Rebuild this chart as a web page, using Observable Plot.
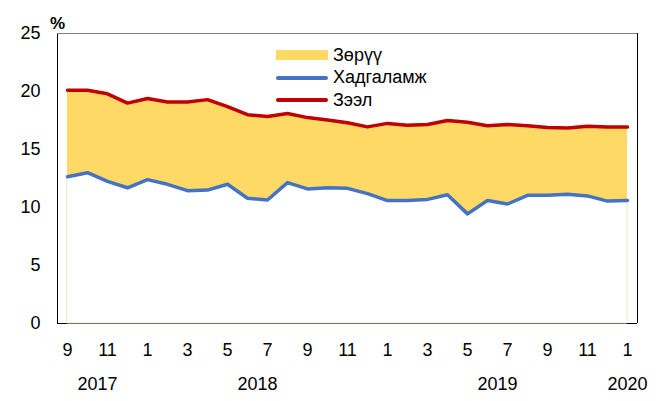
<!DOCTYPE html>
<html>
<head>
<meta charset="utf-8">
<script src="https://cdn.jsdelivr.net/npm/d3@7"></script>
<script src="https://cdn.jsdelivr.net/npm/@observablehq/plot@0.6"></script>
<style>
  html, body { margin: 0; padding: 0; background: #fff; }
  #wrap { position: relative; width: 662px; height: 401px; font-family: "Liberation Sans", Arial, sans-serif; }
  .leg { position: absolute; left: 276px; height: 22px; display: flex; align-items: center; font-size: 18px; color: #000; white-space: nowrap; }
  .sw { width: 52px; margin-right: 5px; }
</style>
</head>
<body>
<div id="wrap"></div>
<script>
// Month numbers, Sep 2017 .. Jan 2020
const monthNum = [9,10,11,12,1,2,3,4,5,6,7,8,9,10,11,12,1,2,3,4,5,6,7,8,9,10,11,12,1];
const startYear = 2017;
// Loan rate (Зээл), %
const loan = [20.1,20.1,19.8,19.0,19.4,19.1,19.1,19.3,18.7,18.0,17.85,18.1,17.75,17.55,17.3,16.95,17.25,17.1,17.15,17.5,17.35,17.05,17.15,17.05,16.9,16.85,17.0,16.95,16.95];
// Deposit rate (Хадгаламж), %
const deposit = [12.65,13.0,12.25,11.7,12.4,12.0,11.45,11.5,12.0,10.8,10.65,12.15,11.6,11.7,11.65,11.2,10.6,10.6,10.7,11.1,9.45,10.6,10.3,11.05,11.05,11.15,11.0,10.55,10.6];
const yTicks = [0,5,10,15,20,25];
const seriesNames = ["Зөрүү", "Хадгаламж", "Зээл"];
const colors = {gap: "#FFD966", deposit: "#4472C4", loan: "#C00000"};

const data = monthNum.map((m, i) => ({i, m, loan: loan[i], deposit: deposit[i]}));

// year of each month and year label centers
let yr = startYear;
const yearOf = monthNum.map((m, i) => { if (i > 0 && m < monthNum[i - 1]) yr++; return yr; });
const years = Array.from(new Set(yearOf));
const yearRows = years.map(y => {
  const idx = data.filter((d, i) => yearOf[i] === y).map(d => d.i);
  return {year: String(y), center: d3.mean(idx)};
});
const evenIdx = data.filter(d => d.i % 2 === 0).map(d => d.i);

const chart = Plot.plot({
  width: 662,
  height: 401,
  marginLeft: 57,
  marginRight: 25,
  marginTop: 33,
  marginBottom: 78,
  x: {domain: [-0.5, data.length - 0.5]},
  y: {domain: [0, 25]},
  style: {fontFamily: "'Liberation Sans', Arial, sans-serif", fontSize: "18px", color: "#000", background: "white", overflow: "visible"},
  marks: [
    Plot.ruleY([0], {stroke: "#000", strokeWidth: 1}),
    Plot.areaY(data, {x: "i", y1: "deposit", y2: "loan", fill: colors.gap, curve: "linear"}),
    Plot.areaY(data, {x: "i", y1: 0, y2: "deposit", fill: "white", stroke: "#efe6cc", strokeWidth: 1}),
    Plot.lineY(data, {x: "i", y: "deposit", stroke: colors.deposit, strokeWidth: 3.5}),
    Plot.lineY(data, {x: "i", y: "loan", stroke: colors.loan, strokeWidth: 3.5}),
    Plot.ruleX([-0.5], {stroke: "#000", strokeWidth: 1}),
    Plot.ruleX([data.length - 0.5], {stroke: "#000", strokeWidth: 1}),
    Plot.ruleY([25], {stroke: "#7f7f7f", strokeWidth: 1}),
    Plot.axisY({ticks: yTicks, tickSize: 0, tickPadding: 17, label: null, fontSize: 18}),
    Plot.axisX({ticks: evenIdx, tickFormat: i => String(monthNum[i]), tickSize: 0, tickPadding: 20, label: null, fontSize: 18}),
    Plot.text(yearRows, {x: "center", text: "year", frameAnchor: "bottom", dy: 66, fontSize: 18}),
    Plot.text(["%"], {text: d => d, frameAnchor: "top-left", dy: -17, fontWeight: "bold", fontSize: 17, textAnchor: "middle"})
  ]
});

const wrap = document.getElementById("wrap");
wrap.appendChild(chart);

const legendRows = [
  {name: seriesNames[0], color: colors.gap, h: 10, top: 44},
  {name: seriesNames[1], color: colors.deposit, h: 4, top: 66.5},
  {name: seriesNames[2], color: colors.loan, h: 4, top: 89}
];
legendRows.forEach(r => {
  const row = document.createElement("div");
  row.className = "leg";
  row.style.top = r.top + "px";
  const sw = document.createElement("span");
  sw.className = "sw";
  sw.style.height = r.h + "px";
  sw.style.background = r.color;
  if (r.h < 10) sw.style.borderRadius = "2px";
  const t = document.createElement("span");
  t.textContent = r.name;
  row.appendChild(sw);
  row.appendChild(t);
  wrap.appendChild(row);
});
</script>
</body>
</html>
